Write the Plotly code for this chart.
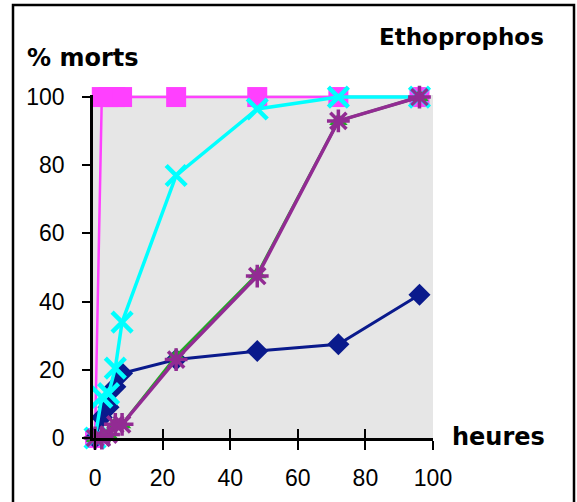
import plotly.graph_objects as go

# ---- data ----
hours = [0, 2, 4, 6, 8, 24, 48, 72, 96]
serie_magenta = [0, 100, 100, 100, 100, 100, 100, 100, 100]
serie_bleu = [0, 6, 9, 15, 19, 23, 25.5, 27.5, 42]
serie_cyan = [0, 12, 13, 20.5, 34, 77, 96.5, 100, 100]
serie_vert = [0, 0, 1, 4, 4, 24, 48, 93, 100]
serie_violet = [0, 0, 1, 4, 4, 23, 47.5, 93, 100]

x_ticks = [0, 20, 40, 60, 80, 100]
y_ticks = [0, 20, 40, 60, 80, 100]

title_text = "Ethoprophos"
y_title = "% morts"
x_title = "heures"

FONT = "DejaVu Sans"
TICK_FONT = "Liberation Sans"
W, H = 577, 502
L, T = 93, 95
R = W - 433
B = H - 438
pw, ph = W - L - R, H - T - B

fig = go.Figure()

def add(y, color, symbol, size, lw, mlw):
    fig.add_trace(go.Scatter(
        x=hours, y=y, mode="lines+markers",
        line=dict(color=color, width=lw),
        marker=dict(symbol=symbol, size=size, color=color,
                    line=dict(color=color, width=mlw)),
        cliponaxis=False, showlegend=False, hoverinfo="skip"))

add(serie_magenta, "#ff40ff", "square", 20, 2.5, 0)
add(serie_bleu, "#0a1a8c", "diamond", 17, 3, 0)
add(serie_cyan, "#00ffff", "x-thin-open", 20, 3.5, 4.5)
add(serie_vert, "#22aa22", "triangle-up", 16, 3, 0)
add(serie_violet, "#922b93", "asterisk-open", 19, 3.5, 3.5)

# invisible trace for the inner-tick overlay axis
fig.add_trace(go.Scatter(x=[0], y=[0], xaxis="x2", mode="markers",
                         marker=dict(opacity=0), showlegend=False, hoverinfo="skip"))

axis_font = dict(family=TICK_FONT, size=23, color="black")

fig.update_layout(
    width=W, height=H,
    margin=dict(l=L, r=R, t=T, b=B, pad=0),
    paper_bgcolor="white",
    plot_bgcolor="#e6e6e6",
    font=dict(family=FONT, color="black"),
    xaxis=dict(range=[-0.6, 100], tickvals=x_ticks, ticks="outside", ticklen=9,
               tickwidth=2, tickcolor="black", showline=True, linecolor="black",
               linewidth=2.5, showgrid=False, zeroline=False, tickfont=axis_font,
               ticklabelstandoff=9),
    xaxis2=dict(range=[-0.6, 100], tickvals=x_ticks, ticks="inside", ticklen=9,
                tickwidth=2, tickcolor="black", showline=False, showgrid=False,
                zeroline=False, showticklabels=False, overlaying="x", anchor="y",
                side="bottom"),
    yaxis=dict(range=[0, 100.6], tickvals=y_ticks, ticks="outside", ticklen=8,
               tickwidth=2, tickcolor="black", showline=True, linecolor="black",
               linewidth=2.5, showgrid=False, zeroline=False, tickfont=axis_font,
               ticklabelstandoff=13),
)

def px_x(px):
    return (px - L) / pw

def px_y(py):
    return (H - B - py) / ph

# outer frame
fig.add_shape(type="rect", xref="paper", yref="paper",
              x0=px_x(13), x1=px_x(574), y0=px_y(515), y1=px_y(5),
              line=dict(color="black", width=2.5), fillcolor="rgba(0,0,0,0)",
              layer="below")

fig.add_annotation(text=y_title, xref="paper", yref="paper", x=px_x(25), y=px_y(58),
                   xanchor="left", yanchor="middle", showarrow=False,
                   font=dict(family=FONT, size=24, color="black", weight="bold"))
fig.add_annotation(text=title_text, xref="paper", yref="paper", x=px_x(546), y=px_y(37),
                   xanchor="right", yanchor="middle", showarrow=False,
                   font=dict(family=FONT, size=23, color="black", weight="bold"))
fig.add_annotation(text=x_title, xref="paper", yref="paper", x=px_x(450), y=px_y(437),
                   xanchor="left", yanchor="middle", showarrow=False,
                   font=dict(family=FONT, size=24, color="black", weight="bold"))

fig.write_html("out.html", config={"displayModeBar": False},
               post_script="document.body.style.margin='0';document.body.style.padding='0';")
